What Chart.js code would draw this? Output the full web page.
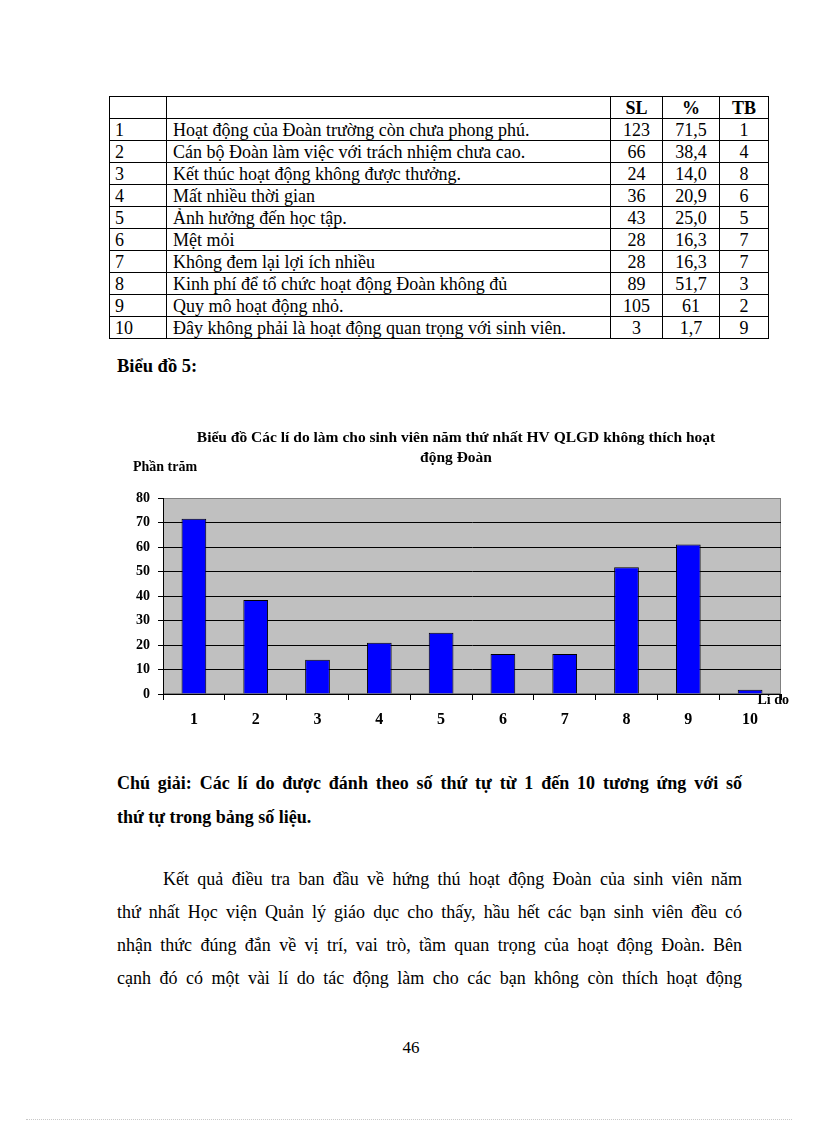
<!DOCTYPE html>
<html lang="vi">
<head>
<meta charset="utf-8">
<title>Biểu đồ 5</title>
<script src="https://cdn.jsdelivr.net/npm/chart.js@4.4.1/dist/chart.umd.min.js"></script>
<style>
    html, body { margin: 0; padding: 0; background: #fff; }
    body {
        width: 816px; height: 1123px; position: relative; overflow: hidden;
        font-family: "Liberation Serif", "Times New Roman", serif; color: #000;
    }
    #reason-table {
        position: absolute; left: 109px; top: 96px; width: 659px;
        border-collapse: collapse; table-layout: fixed; font-size: 18px;
    }
    #reason-table td, #reason-table th {
        border: 1px solid #000; padding: 0 5px; line-height: 20px; white-space: nowrap;
        overflow: hidden;
    }
    #reason-table tr { height: 22px; }
    #reason-table th { font-weight: bold; text-align: center; }
    #reason-table td.num { text-align: center; padding: 0; }
    #reason-table td.txt { padding-left: 6px; }
    .block { position: absolute; left: 117px; width: 625px; font-size: 18px; }
    .bold { font-weight: bold; }
    .line { white-space: nowrap; }
    .just { text-align: justify; text-align-last: justify; }
    #chart-box { position: absolute; left: 100px; top: 420px; width: 700px; height: 320px; }
    #page-number { position: absolute; left: 391px; top: 1038px; width: 40px; text-align: center; font-size: 17px; }
    #page-edge { position: absolute; left: 26px; top: 1119px; width: 766px; border-top: 1px dotted #c8c8c8; }
</style>
</head>
<body>

<table id="reason-table">
    <colgroup>
        <col style="width:57px"><col style="width:444px"><col style="width:52px"><col style="width:57px"><col style="width:49px">
    </colgroup>
    <thead>
        <tr><th></th><th></th><th>SL</th><th>%</th><th>TB</th></tr>
    </thead>
    <tbody id="reason-rows"></tbody>
</table>

<div class="block bold" style="top:349px; line-height:34px; font-size:18.5px;">Biểu đồ 5:</div>

<div id="chart-box"><canvas id="reason-chart"></canvas></div>

<div class="block bold" style="top:766px; line-height:34px;">
    <div class="line just">Chú giải: Các lí do được đánh theo số thứ tự từ 1 đến 10 tương ứng với số</div>
    <div class="line">thứ tự trong bảng số liệu.</div>
</div>

<div class="block" style="top:863px; line-height:33px;">
    <div class="line just" style="padding-left:46px;">Kết quả điều tra ban đầu về hứng thú hoạt động Đoàn của sinh viên năm</div>
    <div class="line just">thứ nhất Học viện Quản lý giáo dục cho thấy, hầu hết các bạn sinh viên đều có</div>
    <div class="line just">nhận thức đúng đắn về vị trí, vai trò, tầm quan trọng của hoạt động Đoàn. Bên</div>
    <div class="line just">cạnh đó có một vài lí do tác động làm cho các bạn không còn thích hoạt động</div>
</div>

<div id="page-number">46</div>
<div id="page-edge"></div>

<script>
// --- DATA ---
const reasonNumbers = ['1', '2', '3', '4', '5', '6', '7', '8', '9', '10'];
const reasonTexts = [
    'Hoạt động của Đoàn trường còn chưa phong phú.',
    'Cán bộ Đoàn làm việc với trách nhiệm chưa cao.',
    'Kết thúc hoạt động không được thưởng.',
    'Mất nhiều thời gian',
    'Ảnh hưởng đến học tập.',
    'Mệt mỏi',
    'Không đem lại lợi ích nhiều',
    'Kinh phí để tổ chức hoạt động Đoàn không đủ',
    'Quy mô hoạt động nhỏ.',
    'Đây không phải là hoạt động quan trọng với sinh viên.'
];
const countValues = [123, 66, 24, 36, 43, 28, 28, 89, 105, 3];
const percentLabels = ['71,5', '38,4', '14,0', '20,9', '25,0', '16,3', '16,3', '51,7', '61', '1,7'];
const rankValues = [1, 4, 8, 6, 5, 7, 7, 3, 2, 9];
const yTickValues = [0, 10, 20, 30, 40, 50, 60, 70, 80];

const chartTitleLines = [
    'Biểu đồ Các lí do làm cho sinh viên năm thứ nhất HV QLGD không thích hoạt',
    'động Đoàn'
];
const yAxisCaption = 'Phần trăm';
const xAxisCaption = 'Lí do';

const FONT = '"Liberation Serif", "Times New Roman", serif';

// chart values come from the % column of the table
const percentValues = percentLabels.map(s => parseFloat(s.replace(',', '.')));

// --- TABLE ---
function fillTable() {
    const body = document.getElementById('reason-rows');
    reasonNumbers.forEach((num, i) => {
        const row = document.createElement('tr');
        const cells = [
            [num, ''],
            [reasonTexts[i], 'txt'],
            [String(countValues[i]), 'num'],
            [percentLabels[i], 'num'],
            [String(rankValues[i]), 'num']
        ];
        cells.forEach(([text, cls]) => {
            const td = document.createElement('td');
            if (cls) td.className = cls;
            td.textContent = text;
            row.appendChild(td);
        });
        body.appendChild(row);
    });
}

// --- CHART PLUGINS ---
// gray plot area like the old Excel chart
const plotBackground = {
    id: 'plotBackground',
    beforeDraw(chart) {
        const { ctx, chartArea: a } = chart;
        ctx.save();
        ctx.fillStyle = '#c0c0c0';
        ctx.fillRect(a.left, a.top, a.right - a.left, a.bottom - a.top);
        ctx.strokeStyle = '#808080';
        ctx.lineWidth = 1;
        ctx.strokeRect(a.left + 0.5, a.top + 0.5, a.right - a.left - 1, a.bottom - a.top - 1);
        ctx.restore();
    }
};

// horizontal axis captions ("Phần trăm" top-left, "Lí do" bottom-right)
const axisCaptions = {
    id: 'axisCaptions',
    afterDraw(chart) {
        const { ctx, chartArea: a } = chart;
        ctx.save();
        ctx.fillStyle = '#000';
        ctx.font = 'bold 14px ' + FONT;
        ctx.textBaseline = 'middle';
        ctx.textAlign = 'left';
        ctx.fillText(yAxisCaption, a.left - 30, a.top - 31);
        ctx.font = 'bold 14px ' + FONT;
        ctx.textAlign = 'right';
        ctx.fillText(xAxisCaption, a.right + 8, a.bottom + 6);
        ctx.restore();
    }
};

function initReasonChart() {
    const ctx = document.getElementById('reason-chart').getContext('2d');
    new Chart(ctx, {
        type: 'bar',
        data: {
            labels: reasonNumbers,
            datasets: [{
                data: percentValues,
                backgroundColor: '#0000ff',
                borderColor: '#000',
                borderWidth: 1,
                barPercentage: 0.4,
                categoryPercentage: 1.0
            }]
        },
        plugins: [plotBackground, axisCaptions],
        options: {
            responsive: true,
            maintainAspectRatio: false,
            animation: false,
            layout: { padding: { left: 31, right: 19, top: 0, bottom: 0 } },
            plugins: {
                legend: { display: false },
                tooltip: { enabled: false },
                title: {
                    display: true,
                    text: chartTitleLines,
                    color: '#000',
                    font: { family: FONT, size: 15.5, weight: 'bold', lineHeight: 20 / 15.5 },
                    padding: { top: 8, bottom: 30 }
                }
            },
            scales: {
                x: {
                    grid: { offset: true, drawOnChartArea: false, color: '#000', tickLength: 6 },
                    border: { color: '#000', width: 1 },
                    ticks: { color: '#000', font: { family: FONT, size: 16, weight: 'bold' }, padding: 10, maxRotation: 0 },
                    afterFit(scale) { scale.height = 46; }
                },
                y: {
                    min: 0,
                    max: 80,
                    afterBuildTicks(scale) { scale.ticks = yTickValues.map(v => ({ value: v })); },
                    grid: {
                        color: c => (c.tick && c.tick.value === 80 ? '#808080' : '#000'),
                        tickColor: '#000',
                        tickLength: 5
                    },
                    border: { color: '#000', width: 1 },
                    ticks: { color: '#000', font: { family: FONT, size: 14, weight: 'bold' }, padding: 8 },
                    afterFit(scale) { scale.width = 32; }
                }
            }
        }
    });
}

// --- START ---
fillTable();
initReasonChart();
</script>
</body>
</html>
